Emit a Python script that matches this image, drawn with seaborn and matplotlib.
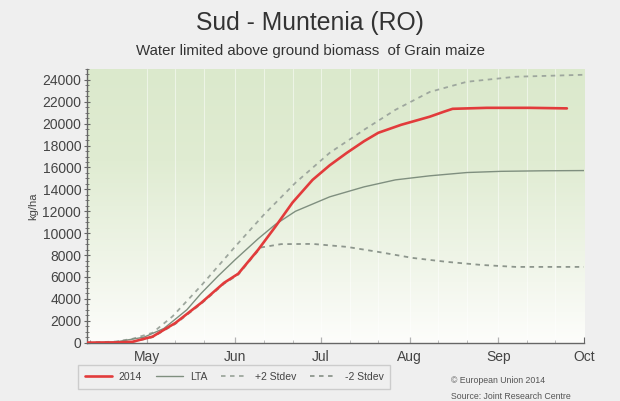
import numpy as np
import pandas as pd
import matplotlib
matplotlib.use("Agg")
import matplotlib.pyplot as plt
from matplotlib.colors import LinearSegmentedColormap
from matplotlib.ticker import MultipleLocator, FixedLocator
import seaborn as sns

# Day-of-year positions and biomass values (kg/ha) for each series
red_doy = [100, 110, 116, 123, 131, 140, 148, 153, 160, 166, 172, 179, 185, 191, 197, 202, 210, 220, 225, 228, 240, 255, 268]
red_val = [0, 20, 80, 550, 1800, 3630, 5460, 6300, 8500, 10600, 12800, 14870, 16200, 17340, 18400, 19170, 19900, 20640, 21100, 21360, 21450, 21450, 21400]

lta_doy = [100, 110, 120, 127, 135, 140, 146, 152, 160, 166, 173, 185, 197, 208, 220, 233, 245, 260, 274]
lta_val = [0, 60, 500, 1300, 3000, 4500, 6100, 7600, 9500, 10800, 12000, 13320, 14230, 14870, 15240, 15540, 15650, 15700, 15720]

up_doy = [100, 110, 116, 123, 130, 135, 140, 146, 152, 162, 173, 185, 197, 208, 220, 233, 250, 274]
up_val = [0, 100, 350, 900, 2400, 3800, 5200, 7000, 8800, 11700, 14600, 17340, 19440, 21270, 22900, 23830, 24290, 24470]

lo_doy = [100, 110, 116, 123, 131, 140, 148, 153, 158, 161, 168, 179, 191, 202, 214, 226, 238, 250, 274]
lo_val = [0, 20, 60, 500, 1720, 3550, 5380, 6220, 7800, 8700, 9000, 9020, 8750, 8290, 7740, 7380, 7100, 6920, 6920]

month_labels = ["May", "Jun", "Jul", "Aug", "Sep", "Oct"]
month_doy = [121, 152, 182, 213, 244, 274]

sns.set_theme(style="white")
plt.rcParams["font.family"] = ["Liberation Sans", "DejaVu Sans"]

fig = plt.figure(figsize=(6.2, 4.01), dpi=100, facecolor="#efefef")
ax = fig.add_axes([0.140, 0.1455, 0.802, 0.6825])
ax.set_facecolor("#efefef")

xmin, xmax, ymin, ymax = 100, 274, 0, 25000

# green-to-white vertical gradient behind the curves
cmap = LinearSegmentedColormap.from_list("bg", ["#fdfdfb", "#eef4e6", "#e0ecd2", "#dbe9cc"])
grad = np.linspace(0, 1, 256).reshape(-1, 1)
ax.imshow(grad, extent=[xmin, xmax, ymin, ymax], origin="lower", aspect="auto",
          cmap=cmap, zorder=0)

for d in month_doy + [131, 141, 162, 172, 192, 202, 223, 233, 254, 264]:
    ax.axvline(d, color="white", lw=0.8, alpha=0.5, zorder=1)

sns.lineplot(x=up_doy, y=up_val, ax=ax, color="#9ea79e", lw=1.3,
             linestyle=(0, (2.5, 2.5)), label="+2 Stdev", zorder=3)
sns.lineplot(x=lo_doy, y=lo_val, ax=ax, color="#8d968d", lw=1.3,
             linestyle=(0, (2.5, 2.5)), label="-2 Stdev", zorder=3)
sns.lineplot(x=lta_doy, y=lta_val, ax=ax, color="#7f8f7f", lw=1.0,
             label="LTA", zorder=4)
sns.lineplot(x=red_doy, y=red_val, ax=ax, color="#e23b3b", lw=1.9,
             label="2014", zorder=5)

ax.set_xlim(xmin, xmax)
ax.set_ylim(ymin, ymax)
ax.set_xticks(month_doy)
ax.set_xticklabels(month_labels)
ax.xaxis.set_minor_locator(FixedLocator([101, 111, 131, 141, 162, 172, 192, 202, 223, 233, 254, 264]))
ax.yaxis.set_major_locator(FixedLocator(list(range(0, 24001, 2000))))
ax.yaxis.set_minor_locator(MultipleLocator(500))
ax.tick_params(axis="x", which="major", direction="in", length=4, width=0.8,
               color="#666666", labelsize=10, labelcolor="#444444", pad=5)
ax.tick_params(axis="x", which="minor", direction="in", length=2.5, width=0.6, color="#666666")
ax.tick_params(axis="y", which="major", direction="inout", length=4, width=0.8,
               color="#666666", labelsize=10, labelcolor="#444444", pad=2)
ax.tick_params(axis="y", which="minor", direction="inout", length=2.5, width=0.6, color="#666666")
ax.tick_params(axis="x", which="both", bottom=True)
ax.tick_params(axis="y", which="both", left=True)

for s in ["top", "right"]:
    ax.spines[s].set_visible(False)
for s in ["left", "bottom"]:
    ax.spines[s].set_color("#666666")
    ax.spines[s].set_linewidth(1.0)

ax.set_xlabel("")
ax.set_ylabel("kg/ha", fontsize=8, color="#444444", labelpad=3)

handles, labels = ax.get_legend_handles_labels()
order = [labels.index(k) for k in ["2014", "LTA", "+2 Stdev", "-2 Stdev"]]
ax.legend([handles[i] for i in order], [labels[i] for i in order],
          loc="lower left", bbox_to_anchor=(0.117, 0.018), bbox_transform=fig.transFigure,
          ncol=4, fontsize=7.5, frameon=True, fancybox=False, edgecolor="#c4c4c4",
          facecolor="#efefef", handlelength=2.6, columnspacing=1.3,
          borderpad=0.65, handletextpad=0.7)
for t in ax.get_legend().get_texts():
    t.set_color("#444444")

fig.text(0.5, 0.943, "Sud - Muntenia (RO)", ha="center", va="center",
         fontsize=17.8, color="#333333")
fig.text(0.5, 0.873, "Water limited above ground biomass  of Grain maize", ha="center",
         va="center", fontsize=10.8, color="#333333")
fig.text(0.728, 0.052, "\u00a9 European Union 2014", fontsize=6.3, color="#555555", va="center")
fig.text(0.728, 0.012, "Source: Joint Research Centre", fontsize=6.3, color="#555555", va="center")

fig.savefig("out.png", dpi=100, facecolor=fig.get_facecolor())
